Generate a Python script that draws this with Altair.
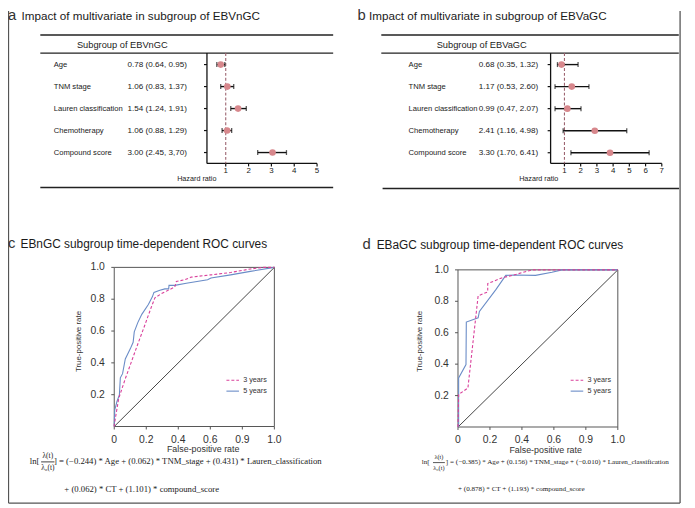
import altair as alt
import pandas as pd

# ------------------------------------------------------------------ data
var_labels = ["Age", "TNM stage", "Lauren classification", "Chemotherapy", "Compound score"]

ci_text_a = ["0.78 (0.64, 0.95)", "1.06 (0.83, 1.37)", "1.54 (1.24, 1.91)",
             "1.06 (0.88, 1.29)", "3.00 (2.45, 3,70)"]
hr_a = [0.78, 1.07, 1.54, 1.06, 3.05]
lo_a = [0.61, 0.78, 1.22, 0.84, 2.40]
hi_a = [0.96, 1.35, 1.90, 1.26, 3.66]
ticks_a = [1, 2, 3, 4, 5]

ci_text_b = ["0.68 (0.35, 1.32)", "1.17 (0.53, 2.60)", "0.99 (0.47, 2.07)",
             "2.41 (1.16, 4.98)", "3.30 (1.70, 6.41)"]
hr_b = [0.82, 1.45, 1.18, 2.87, 3.81]
lo_b = [0.57, 0.42, 0.42, 0.92, 1.40]
hi_b = [1.84, 2.51, 2.02, 4.84, 6.22]
ticks_b = [1, 2, 3, 4, 5, 6, 7]

# ROC curves, panel c (EBnGC)
c3_fpr = [0, 0.0, 0.028, 0.069, 0.11, 0.151, 0.193, 0.23, 0.254, 0.295, 0.378, 0.388,
          0.44, 0.48, 0.604, 0.727, 0.85, 0.93, 1.0]
c3_tpr = [0, 0.01, 0.177, 0.30, 0.415, 0.529, 0.643, 0.746, 0.809, 0.835, 0.877, 0.912,
          0.922, 0.939, 0.953, 0.968, 0.99, 1.0, 1.0]
c5_fpr = [0, 0.0, 0.003, 0.017, 0.032, 0.038, 0.052, 0.069, 0.10, 0.118, 0.125, 0.147,
          0.172, 0.213, 0.238, 0.248, 0.285, 0.316, 0.34, 0.342, 0.378, 0.45, 0.583,
          0.604, 0.727, 0.85, 1.0]
c5_tpr = [0, 0.011, 0.104, 0.157, 0.198, 0.306, 0.332, 0.425, 0.488, 0.529, 0.595, 0.653,
          0.705, 0.767, 0.815, 0.843, 0.856, 0.865, 0.865, 0.887, 0.887, 0.90, 0.922,
          0.933, 0.953, 0.975, 1.0]

# ROC curves, panel d (EBaGC)
d3_fpr = [0, 0.004, 0.062, 0.126, 0.186, 0.186, 0.278, 0.34, 0.464, 1.0]
d3_tpr = [0, 0.207, 0.248, 0.835, 0.86, 0.913, 0.95, 0.965, 1.0, 1.0]
d5_fpr = [0, 0.004, 0.004, 0.05, 0.052, 0.126, 0.134, 0.237, 0.299, 0.35, 0.485, 0.588, 0.65, 1.0]
d5_tpr = [0, 0.004, 0.312, 0.397, 0.668, 0.695, 0.735, 0.874, 0.965, 0.967, 0.965, 0.985, 1.0, 1.0]

roc_x_ticks = [0, 0.2, 0.4, 0.6, 0.8, 1.0]
roc_x_tick_labels = ["0", "0.2", "0.4", "0.6", "0.9", "1.0"]
roc_y_ticks = [0.2, 0.4, 0.6, 0.8, 1.0]
roc_y_tick_labels = ["0.2", "0.4", "0.6", "0.8", "1.0"]

# ------------------------------------------------------------------ styles
FONT = "Liberation Sans"
SERIF = "Liberation Serif"
PINK = "#d7878c"
REFLINE = "#9c6470"
MAGENTA = "#d9409b"
BLUE = "#6a8cc7"
TXT = "#1a1a1a"

one = pd.DataFrame({"k": [0]})


def text_at(s, x, y, size, align="left", baseline="middle", font=FONT, color=TXT, angle=None):
    kw = dict(text=s, align=align, baseline=baseline, font=font, fontSize=size, color=color)
    if angle is not None:
        kw["angle"] = angle
    return alt.Chart(one).mark_text(**kw).encode(x=alt.value(x), y=alt.value(y))


def seg(x1, y1, x2, y2, color="#222", width=1.0, dash=None):
    kw = dict(color=color, strokeWidth=width)
    if dash:
        kw["strokeDash"] = dash
    return alt.Chart(one).mark_rule(**kw).encode(
        x=alt.value(x1), y=alt.value(y1), x2=alt.value(x2), y2=alt.value(y2))


def forest(ci_text, hr, lo, hi, ticks, dom, rng, axis_x, axis_y, top_y, label_x, ci_x, rows):
    df = pd.DataFrame({"label": var_labels, "ci": ci_text, "hr": hr, "lo": lo, "hi": hi})
    tdf = pd.DataFrame({"t": ticks})
    sx = alt.Scale(domain=dom, range=rng, zero=False, nice=False)
    sy = alt.Scale(type="point", domain=var_labels, range=rows, padding=0)
    Y = alt.Y("label:N", scale=sy, axis=None)
    L = []
    # axes
    L.append(seg(axis_x, top_y, axis_x, axis_y, "#111", 1.3))
    L.append(seg(axis_x, axis_y, rng[1], axis_y, "#111", 1.3))
    L.append(alt.Chart(df).mark_rule(color="#111", strokeWidth=1.2).encode(
        x=alt.value(axis_x - 3), x2=alt.value(axis_x), y=Y))
    L.append(alt.Chart(tdf).mark_rule(color="#111", strokeWidth=1.2).encode(
        x=alt.X("t:Q", scale=sx, axis=None), y=alt.value(axis_y), y2=alt.value(axis_y + 3)))
    L.append(alt.Chart(tdf).mark_text(fontSize=8, font=FONT, color=TXT, baseline="top").encode(
        x=alt.X("t:Q", scale=sx, axis=None), y=alt.value(axis_y + 3.5), text="t:Q"))
    # reference line at HR = 1
    L.append(alt.Chart(one).mark_rule(color=REFLINE, strokeWidth=1.1, strokeDash=[3, 2]).encode(
        x=alt.XDatum(1, type="quantitative", scale=sx, axis=None),
        y=alt.value(top_y), y2=alt.value(axis_y)))
    # error bars
    L.append(alt.Chart(df).mark_rule(color="#111", strokeWidth=1.4).encode(
        x=alt.X("lo:Q", scale=sx, axis=None), x2="hi:Q", y=Y))
    L.append(alt.Chart(df).mark_tick(color="#111", orient="vertical", size=5, thickness=1.3).encode(
        x=alt.X("lo:Q", scale=sx, axis=None), y=Y))
    L.append(alt.Chart(df).mark_tick(color="#111", orient="vertical", size=5, thickness=1.3).encode(
        x=alt.X("hi:Q", scale=sx, axis=None), y=Y))
    L.append(alt.Chart(df).mark_circle(color=PINK, size=45, opacity=1).encode(
        x=alt.X("hr:Q", scale=sx, axis=None), y=Y))
    # table text
    L.append(alt.Chart(df).mark_text(align="left", fontSize=7.7, font=FONT, color=TXT).encode(
        x=alt.value(label_x), y=Y, text="label:N"))
    L.append(alt.Chart(df).mark_text(align="left", fontSize=8.2, font=FONT, color=TXT).encode(
        x=alt.value(ci_x), y=Y, text="ci:N"))
    return L


def roc(f3, t3, f5, t5, xr, yr, ylab_x, xlab_y, ytitle_x, ytitle_y, xtitle_x, xtitle_y, leg_x):
    sx = alt.Scale(domain=[0, 1], range=xr, zero=False, nice=False)
    sy = alt.Scale(domain=[0, 1], range=yr, zero=False, nice=False)
    L = []
    L.append(alt.Chart(one).mark_rect(fillOpacity=0, stroke="#555", strokeWidth=1).encode(
        x=alt.XDatum(0, type="quantitative", scale=sx, axis=None), x2=alt.X2Datum(1),
        y=alt.YDatum(0, type="quantitative", scale=sy, axis=None), y2=alt.Y2Datum(1)))
    L.append(alt.Chart(one).mark_rule(color="#444", strokeWidth=1).encode(
        x=alt.XDatum(0, type="quantitative", scale=sx, axis=None), x2=alt.X2Datum(1),
        y=alt.YDatum(0, type="quantitative", scale=sy, axis=None), y2=alt.Y2Datum(1)))
    xt = pd.DataFrame({"v": roc_x_ticks, "lab": roc_x_tick_labels})
    yt = pd.DataFrame({"v": roc_y_ticks, "lab": roc_y_tick_labels})
    L.append(alt.Chart(yt).mark_rule(color="#555", strokeWidth=1).encode(
        x=alt.value(xr[0] - 3), x2=alt.value(xr[0]), y=alt.Y("v:Q", scale=sy, axis=None)))
    L.append(alt.Chart(yt).mark_text(align="right", fontSize=10.5, font=FONT, color="#333").encode(
        x=alt.value(ylab_x), y=alt.Y("v:Q", scale=sy, axis=None), text="lab:N"))
    L.append(alt.Chart(xt).mark_rule(color="#555", strokeWidth=1).encode(
        x=alt.X("v:Q", scale=sx, axis=None), y=alt.value(yr[0]), y2=alt.value(yr[0] + 3)))
    L.append(alt.Chart(xt).mark_text(fontSize=10.5, font=FONT, color="#333").encode(
        x=alt.X("v:Q", scale=sx, axis=None), y=alt.value(xlab_y), text="lab:N"))
    d3 = pd.DataFrame({"fpr": f3, "tpr": t3, "i": list(range(len(f3)))})
    d5 = pd.DataFrame({"fpr": f5, "tpr": t5, "i": list(range(len(f5)))})
    L.append(alt.Chart(d5).mark_line(color=BLUE, strokeWidth=1.1).encode(
        x=alt.X("fpr:Q", scale=sx, axis=None), y=alt.Y("tpr:Q", scale=sy, axis=None), order="i:Q"))
    L.append(alt.Chart(d3).mark_line(color=MAGENTA, strokeWidth=1.1, strokeDash=[3, 2]).encode(
        x=alt.X("fpr:Q", scale=sx, axis=None), y=alt.Y("tpr:Q", scale=sy, axis=None), order="i:Q"))
    L.append(text_at("True-positive rate", ytitle_x, ytitle_y, 8, align="center", color="#333", angle=270))
    L.append(text_at("False-positive rate", xtitle_x, xtitle_y, 9, align="center", color="#333"))
    # legend
    L.append(seg(leg_x, 373.7, leg_x + 12.7, 373.7, MAGENTA, 1.1, [3, 2]))
    L.append(seg(leg_x, 384.7, leg_x + 12.7, 384.7, BLUE, 1.1))
    L.append(text_at("3 years", leg_x + 17, 373.7, 7.3, color="#333"))
    L.append(text_at("5 years", leg_x + 17, 384.7, 7.3, color="#333"))
    return L


layers = []

# frame
layers.append(seg(0.5, 0, 0.5, 498, "#555", 1.3))
layers.append(seg(680, 0, 680, 498, "#555", 1.3))
layers.append(seg(0.5, 498, 680, 498, "#555", 1.3))

# ---------------- panel a
layers.append(text_at("a", 0, 9.5, 15, baseline="alphabetic", color="#333"))
layers.append(text_at("Impact of multivariate in subgroup of EBVnGC", 13.7, 9.5, 11.8, baseline="alphabetic"))
layers.append(seg(32.7, 24.3, 329, 24.3, "#222", 1.6))
layers.append(text_at("Subgroup of EBVnGC", 69.7, 35, 9.4))
layers.append(seg(32.7, 42.7, 329, 42.7, "#222", 1.2))
layers += forest(ci_text_a, hr_a, lo_a, hi_a, ticks_a, [1, 5], [220.3, 312.7],
                 201.3, 154.3, 42.7, 46.3, 121, [54.3, 143.3])
layers.append(text_at("Hazard ratio", 191, 169.7, 7.3, align="center"))
layers.append(seg(32.7, 178.7, 329, 178.7, "#222", 1.6))

# ---------------- panel b
layers.append(text_at("b", 353.7, 9.5, 15, baseline="alphabetic", color="#333"))
layers.append(text_at("Impact of multivariate in subgroup of EBVaGC", 365.3, 9.5, 11.8, baseline="alphabetic"))
layers.append(seg(377.7, 24.3, 678.7, 24.3, "#222", 1.6))
layers.append(text_at("Subgroup of EBVaGC", 433.7, 35, 9.4))
layers.append(seg(377.7, 42.7, 678.7, 42.7, "#222", 1.2))
layers += forest(ci_text_b, hr_b, lo_b, hi_b, ticks_b, [1, 7], [563, 661.5],
                 549, 154.3, 42.7, 405.3, 476.3, [54.3, 143.5])
layers.append(text_at("Hazard ratio", 537, 170, 7.3, align="center"))
layers.append(seg(379, 179.7, 679, 179.7, "#222", 1.6))

# ---------------- panel c
layers.append(text_at("c", 0, 240.3, 15, baseline="alphabetic", color="#333"))
layers.append(text_at("EBnGC subgroup time-dependent ROC curves", 12.7, 240.3, 12, baseline="alphabetic"))
layers += roc(c3_fpr, c3_tpr, c5_fpr, c5_tpr, [107.5, 269.5], [420.5, 259.5],
              98, 433.7, 72, 334.5, 197.5, 443.7, 221)
layers.append(text_at("ln[", 22, 455.3, 8.8, font=SERIF))
layers.append(text_at("λ(t)", 40.3, 450.3, 7.5, align="center", font=SERIF))
layers.append(seg(33.5, 456.3, 47, 456.3, "#111", 0.8))
layers.append(text_at("λ₀(t)", 40.3, 462, 7.5, align="center", font=SERIF))
layers.append(text_at("] = (−0.244) * Age + (0.062) * TNM_stage + (0.431) * Lauren_classification",
                      46.5, 455.3, 8.8, font=SERIF))
layers.append(text_at("+ (0.062) * CT + (1.101) * compound_score", 57, 483.7, 8.8, font=SERIF))

# ---------------- panel d
layers.append(text_at("d", 358.7, 240.8, 15, baseline="alphabetic", color="#333"))
layers.append(text_at("EBaGC subgroup time-dependent ROC curves", 373, 240.8, 12, baseline="alphabetic"))
layers += roc(d3_fpr, d3_tpr, d5_fpr, d5_tpr, [455.3, 617], [421, 262],
              446, 433.7, 417, 334.5, 544, 444.7, 569.3)
layers.append(text_at("ln[", 418.7, 456.3, 7.2, font=SERIF))
layers.append(text_at("λ(t)", 436, 451, 6.4, align="center", font=SERIF))
layers.append(seg(430, 457, 442, 457, "#111", 0.7))
layers.append(text_at("λ₀(t)", 436, 462, 6.4, align="center", font=SERIF))
layers.append(text_at("] = (−0.385) * Age + (0.156) * TNM_stage + (−0.010) * Lauren_classification",
                      443, 456.3, 7.2, font=SERIF))
layers.append(text_at("+ (0.878) * CT + (1.193) * compound_score", 455.3, 483.7, 7.2, font=SERIF))

chart = alt.layer(*layers).resolve_scale(x="independent", y="independent").properties(
    width=687, height=500, autosize=alt.AutoSizeParams(type="none"), padding=0
).configure_view(stroke=None)

chart.save("out.html", embed_options={"renderer": "svg", "actions": False})
